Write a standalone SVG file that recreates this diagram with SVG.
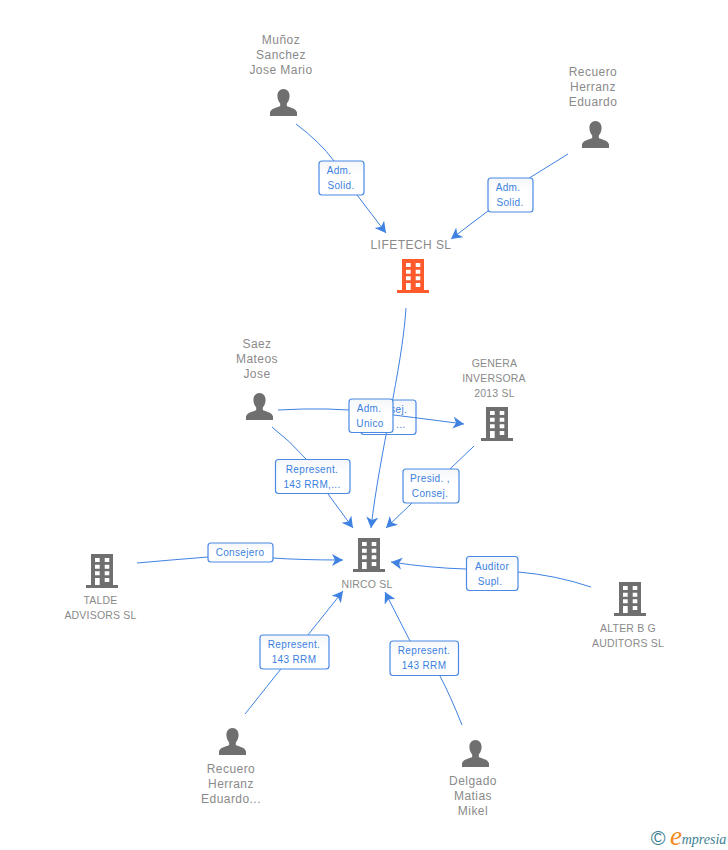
<svg xmlns="http://www.w3.org/2000/svg" width="728" height="850" viewBox="0 0 728 850">
<style>
text{font-family:"Liberation Sans",Arial,sans-serif;text-anchor:middle}
.n{font-size:12px;fill:#8a8a8a;letter-spacing:.45px}
.s{font-size:10.5px;fill:#8a8a8a;letter-spacing:.2px}
.l{font-size:10px;fill:#3b7fe0;letter-spacing:.35px}
.b{fill:url(#g);stroke:#4a8ae4;stroke-width:1.2}
.c{fill:none;stroke:#3f82e2;stroke-width:1;marker-end:url(#a)}
.d{fill:none;stroke:#3f82e2;stroke-width:1}
.p{fill:#6f6f6f}
</style>
<defs>
<linearGradient id="g" x1="0" y1="0" x2="0" y2="1"><stop offset="0" stop-color="#f4f6f9"/><stop offset=".4" stop-color="#fff"/><stop offset="1" stop-color="#fff"/></linearGradient>
<marker id="a" markerUnits="userSpaceOnUse" markerWidth="14" markerHeight="14" refX="11" refY="6" orient="auto"><path d="M0,0 L11,6 L0,12 L3,6 Z" fill="#3f82e2"/></marker>
<path id="bld" fill-rule="evenodd" d="M5,0H27V31H32V34H0V31H5ZM9,4V8H13.7V4ZM18.7,4V8H23.3V4ZM9,10.7V14.7H13.7V10.7ZM18.7,10.7V14.7H23.3V10.7ZM9,17.3V21.3H13.7V17.3ZM18.700,17.3V21.3H23.3V17.3ZM9,24V31H13.7V24ZM18.7,24V28H23.3V24Z"/>
<path id="per" d="M13.5,0C17.3,0 19.6,3 19.6,7C19.6,10.5 18,13 16.8,14.5V17C19,18.5 26,19 27,23.5V27H0V23.5C1,19 8,18.5 10.200,17V14.5C9,13 7.4,10.5 7.4,7C7.4,3 9.7,0 13.5,0Z"/>
</defs>
<g id="label-3"><rect class="b" x="361" y="400" width="55" height="34.500" rx="3"/><text class="l" x="389" y="413">Consej.</text><text class="l" x="401" y="428">...</text></g>
<g id="connectors">
<path class="d" d="M296,124Q320,142 334,161"/><path class="c" d="M357,195L386,233"/>
<path class="d" d="M568,154L510,190"/><path class="c" d="M488,211L451,239"/>
<path class="c" d="M406,308C402,370 380,450 371,528"/>
<path class="c" d="M278,410Q330,407 370,412T464,424"/>
<path class="d" d="M272,427Q290,441 306,459"/><path class="c" d="M328,494L353,528"/>
<path class="d" d="M474,446L450,469"/><path class="c" d="M412,503L386,528"/>
<path class="d" d="M137,563Q170,560 208,557"/><path class="c" d="M273,558Q300,560 343,560"/>
<path class="d" d="M591,587Q555,575 518,572"/><path class="c" d="M466,569Q430,568 391,562"/>
<path class="c" d="M245,714L343,591"/>
<path class="d" d="M462,725Q450,695 440,676"/><path class="c" d="M410,641L385,592"/>
</g>
<g id="label-1"><rect class="b" x="319" y="161" width="45" height="34" rx="3"/><text class="l" x="339" y="174">Adm.</text><text class="l" x="341" y="189">Solid.</text></g>
<g id="label-2"><rect class="b" x="488" y="178" width="45" height="34" rx="3"/><text class="l" x="508" y="191">Adm.</text><text class="l" x="510" y="206">Solid.</text></g>
<g id="label-4"><rect class="b" x="349" y="399" width="44" height="33.500" rx="3"/><text class="l" x="369" y="412">Adm.</text><text class="l" x="370" y="427">Unico</text></g>
<g id="label-5"><rect class="b" x="275.500" y="459.500" width="74.500" height="34" rx="3"/><text class="l" x="312" y="473">Represent.</text><text class="l" x="312" y="488">143 RRM,...</text></g>
<g id="label-6"><rect class="b" x="403" y="469" width="56" height="34" rx="3"/><text class="l" x="430" y="482">Presid. ,</text><text class="l" x="430" y="497">Consej.</text></g>
<g id="label-7"><rect class="b" x="208" y="543" width="65" height="19" rx="3"/><text class="l" x="240" y="556">Consejero</text></g>
<g id="label-8"><rect class="b" x="466.500" y="556.500" width="51.500" height="34" rx="3"/><text class="l" x="492" y="570">Auditor</text><text class="l" x="490" y="585">Supl.</text></g>
<g id="label-9"><rect class="b" x="260" y="635" width="69" height="34" rx="3"/><text class="l" x="294" y="648">Represent.</text><text class="l" x="294" y="663">143 RRM</text></g>
<g id="label-10"><rect class="b" x="390" y="641" width="68.500" height="34.500" rx="3"/><text class="l" x="424" y="654">Represent.</text><text class="l" x="424" y="669">143 RRM</text></g>
<g id="munoz"><text class="n" x="281" y="44">Muñoz</text><text class="n" x="281" y="59">Sanchez</text><text class="n" x="281" y="74">Jose Mario</text><use href="#per" class="p" x="270" y="89"/></g>
<g id="recuero-top"><text class="n" x="593" y="76">Recuero</text><text class="n" x="593" y="91">Herranz</text><text class="n" x="593" y="106">Eduardo</text><use href="#per" class="p" x="582" y="121"/></g>
<g id="lifetech"><text class="n" x="411" y="249">LIFETECH SL</text><use href="#bld" fill="#ff5a2c" x="397" y="259"/></g>
<g id="saez"><text class="n" x="257" y="348">Saez</text><text class="n" x="257" y="363">Mateos</text><text class="n" x="257" y="378">Jose</text><use href="#per" class="p" x="246" y="393"/></g>
<g id="genera"><text class="s" x="494.500" y="367">GENERA</text><text class="s" x="494" y="382">INVERSORA</text><text class="s" x="494.500" y="397">2013 SL</text><use href="#bld" class="p" x="481" y="407"/></g>
<g id="nirco"><use href="#bld" class="p" x="353" y="538"/><text class="s" x="367" y="588">NIRCO SL</text></g>
<g id="talde"><use href="#bld" class="p" x="86" y="554"/><text class="s" x="100.500" y="604">TALDE</text><text class="s" x="100.500" y="619">ADVISORS SL</text></g>
<g id="alter"><use href="#bld" class="p" x="614" y="582"/><text class="s" x="628" y="632">ALTER B G</text><text class="s" x="628" y="647">AUDITORS SL</text></g>
<g id="recuero-bottom"><use href="#per" class="p" x="219" y="728"/><text class="n" x="231" y="773">Recuero</text><text class="n" x="231" y="788">Herranz</text><text class="n" x="231" y="803">Eduardo...</text></g>
<g id="delgado"><use href="#per" class="p" x="462" y="740"/><text class="n" x="473" y="785">Delgado</text><text class="n" x="473" y="800">Matias</text><text class="n" x="473" y="815">Mikel</text></g>
<g id="logo"><text x="658" y="845" style="font-size:20px;fill:#3d7f92">©</text><text x="676" y="845" style="font-family:'Liberation Serif',serif;font-style:italic;font-size:27px;fill:#f58a1f">e</text><text x="704" y="844" style="font-family:'Liberation Serif',serif;font-style:italic;font-size:14px;fill:#3d7f92">mpresia</text></g>
</svg>
